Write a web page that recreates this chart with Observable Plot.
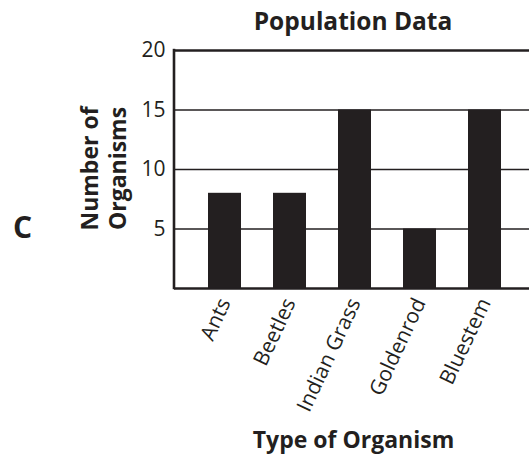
<!DOCTYPE html>
<html>
<head>
<meta charset="utf-8">
<script src="https://cdn.jsdelivr.net/npm/d3@7"></script>
<script src="https://cdn.jsdelivr.net/npm/@observablehq/plot@0.6"></script>
<style>
  html, body { margin: 0; padding: 0; background: #fff; }
  #chart svg { display: block; }
</style>
</head>
<body>
<div id="chart"></div>
<script>
const categories = ["Ants", "Beetles", "Indian Grass", "Goldenrod", "Bluestem"];
const counts = [8, 8, 15, 5, 15];
const yTicks = [5, 10, 15, 20];
const gridLines = [5, 10, 15];
const titleText = "Population Data";
const xLabel = "Type of Organism";
const yLabel = "Number of\nOrganisms";
const panelLetter = "C";

const data = categories.map((c, i) => ({type: c, count: counts[i]}));
const ink = "#231f20";
const font = "'Open Sans', sans-serif";

const leftLine = (index, scales, values, dims) => {
  const g = d3.create("svg:line")
    .attr("x1", dims.marginLeft).attr("x2", dims.marginLeft)
    .attr("y1", dims.marginTop - 1.2).attr("y2", dims.height - dims.marginBottom + 1.2)
    .attr("stroke", ink).attr("stroke-width", 2.6);
  return g.node();
};

const chart = Plot.plot({
  width: 529,
  height: 457,
  marginLeft: 174,
  marginRight: 0,
  marginTop: 50,
  marginBottom: 169,
  style: {fontFamily: font, color: ink, background: "#fff"},
  x: {domain: categories, paddingInner: 0.5, paddingOuter: 0.47, align: 0.54, label: null},
  y: {domain: [0, 20], label: null},
  marks: [
    Plot.ruleY(gridLines, {stroke: ink, strokeWidth: 1.5}),
    Plot.barY(data, {x: "type", y: "count", fill: ink}),
    Plot.ruleY([20], {stroke: ink, strokeWidth: 2.6}),
    Plot.ruleY([0], {stroke: ink, strokeWidth: 2.6}),
    leftLine,
    Plot.axisY({ticks: yTicks, tickSize: 0, tickPadding: 9, fontSize: 21, label: null}),
    Plot.axisX({tickSize: 0, tickRotate: -65, tickPadding: 11, fontSize: 21, label: null}),
    Plot.text([titleText], {frameAnchor: "top", dy: -28.5, dx: 1, lineAnchor: "middle", fontSize: 24.5, fontWeight: "bold", fill: ink}),
    Plot.text([xLabel], {frameAnchor: "bottom", dy: 152, dx: 1.5, lineAnchor: "middle", fontSize: 23, fontWeight: "bold", fill: ink}),
    Plot.text([yLabel], {frameAnchor: "left", dx: -71.25, dy: -1, rotate: -90, textAnchor: "middle", lineAnchor: "middle", lineHeight: 1.2, fontSize: 23, fontWeight: "bold", fill: ink}),
    Plot.text([panelLetter], {frameAnchor: "left", dx: -152, dy: 58.5, textAnchor: "middle", lineAnchor: "middle", fontSize: 30, fontWeight: "bold", fill: ink})
  ]
});
document.getElementById("chart").append(chart);
</script>
</body>
</html>
